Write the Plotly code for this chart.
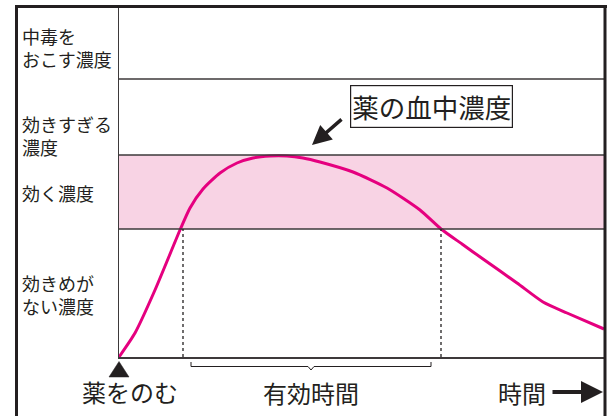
import plotly.graph_objects as go

# ---- data (time in arbitrary units, concentration in arbitrary units) ----
time = [0, 16, 36, 61, 71, 84, 101, 118, 134, 151, 168, 184, 201, 234, 268, 301,
        322, 343, 364, 398, 424, 448, 485]
conc = [0, 24, 67, 127, 149, 168, 184, 194, 199, 201, 201, 199, 195, 185, 169, 147,
        128, 113, 98, 74, 55, 44, 28]

level_bounds = [0, 128, 202, 278, 350]          # zone boundaries
level_labels = ["効きめが<br>ない濃度", "効く濃度", "効きすぎる<br>濃度", "中毒を<br>おこす濃度"]
label_levels = [63, 164, 222, 310]              # vertical placement of the zone labels
effect_start, effect_end = 64, 322              # times where curve crosses effective level
time_max = 486

W, H = 613, 416
FONT = "Noto Sans CJK JP"
INK = "#231f20"
MAGENTA = "#e5007f"
PINK = "#f8d3e4"
X_DOM = [119 / W, 605 / W]

def px(x):
    return x / W

def py(y):
    return 1 - y / H

def t_to_paper(t):
    return X_DOM[0] + (X_DOM[1] - X_DOM[0]) * t / time_max

fig = go.Figure()

fig.add_trace(go.Scatter(
    x=time, y=conc, mode="lines",
    line=dict(color=MAGENTA, width=3, shape="spline", smoothing=0.6),
    hoverinfo="skip", showlegend=False))

shapes = []
# effective band
shapes.append(dict(type="rect", xref="x", yref="y", x0=0, x1=time_max,
                   y0=level_bounds[1], y1=level_bounds[2],
                   fillcolor=PINK, line=dict(width=0), layer="below"))
# zone boundary lines
for b in level_bounds[1:4]:
    shapes.append(dict(type="line", xref="x", yref="y", x0=0, x1=time_max,
                       y0=b, y1=b, line=dict(color="#3d393a", width=1.5)))
# dotted verticals
for t in (effect_start, effect_end):
    shapes.append(dict(type="line", xref="x", yref="y", x0=t, x1=t,
                       y0=0, y1=level_bounds[1],
                       line=dict(color=INK, width=1.3, dash="dot")))
# outer frame (left, top, right)
shapes.append(dict(type="line", xref="paper", yref="paper", x0=px(16.5), x1=px(16.5),
                   y0=py(5), y1=py(416), line=dict(color=INK, width=3)))
shapes.append(dict(type="line", xref="paper", yref="paper", x0=px(15), x1=px(607),
                   y0=py(6.5), y1=py(6.5), line=dict(color=INK, width=3)))
shapes.append(dict(type="line", xref="paper", yref="paper", x0=px(605), x1=px(605),
                   y0=py(5), y1=py(416), line=dict(color=INK, width=3)))
# start marker (filled triangle under the origin)
tx = t_to_paper(time[0])
shapes.append(dict(type="path", xref="paper", yref="paper",
                   path=(f"M {tx - px(10)},{py(377)} L {tx + px(10)},{py(377)} "
                         f"L {tx},{py(361.5)} Z"),
                   fillcolor=INK, line=dict(color=INK, width=0.5)))
# brace under effective time
bx0, bx1 = t_to_paper(effect_start + 8), t_to_paper(effect_end - 10)
bm = (bx0 + bx1) / 2
d = px(3)
brace = (f"M {bx0},{py(362)} L {bx0},{py(366.5)} L {bm - d},{py(366.5)} L {bm},{py(370)} "
         f"L {bm + d},{py(366.5)} L {bx1},{py(366.5)} L {bx1},{py(362)}")
shapes.append(dict(type="path", xref="paper", yref="paper", path=brace,
                   line=dict(color=INK, width=1)))

annotations = []
# left zone labels
for ly, lab in zip(label_levels, level_labels):
    annotations.append(dict(text=lab, xref="paper", yref="y", x=px(20), y=ly,
                            xanchor="left", yanchor="middle", align="left", showarrow=False,
                            font=dict(family=FONT, size=18, color=INK)))
# bottom labels
annotations.append(dict(text="薬をのむ", xref="paper", yref="paper", x=px(130), y=py(391),
                        xanchor="center", yanchor="middle", showarrow=False,
                        font=dict(family=FONT, size=24, color=INK)))
annotations.append(dict(text="有効時間", xref="paper", yref="paper", x=bm, y=py(392),
                        xanchor="center", yanchor="middle", showarrow=False,
                        font=dict(family=FONT, size=24, color=INK)))
annotations.append(dict(text="時間", xref="paper", yref="paper", x=px(522), y=py(392),
                        xanchor="center", yanchor="middle", showarrow=False,
                        font=dict(family=FONT, size=24, color=INK)))
annotations.append(dict(text="", xref="paper", yref="paper", x=px(603), y=py(392),
                        ax=-52, ay=0, axref="pixel", ayref="pixel", showarrow=True,
                        arrowhead=2, arrowsize=1.1, arrowwidth=4, arrowcolor=INK))
# curve label
annotations.append(dict(text="薬の血中濃度", xref="paper", yref="paper", x=px(431), y=py(106.5),
                        xanchor="center", yanchor="middle", showarrow=False,
                        bordercolor=INK, borderwidth=1.2, borderpad=1, bgcolor="white",
                        font=dict(family=FONT, size=26.5, color=INK)))
annotations.append(dict(text="", xref="paper", yref="paper", x=px(312), y=py(145),
                        ax=31, ay=-27, axref="pixel", ayref="pixel", showarrow=True,
                        arrowhead=2, arrowsize=1.1, arrowwidth=3.5, arrowcolor=INK))

fig.update_layout(
    width=W, height=H, margin=dict(l=0, r=0, t=0, b=0),
    paper_bgcolor="white", plot_bgcolor="white",
    shapes=shapes, annotations=annotations,
    xaxis=dict(domain=X_DOM, range=[0, time_max], showgrid=False,
               zeroline=False, showticklabels=False, ticks="",
               showline=True, linecolor="#3d393a", linewidth=1.5, fixedrange=True),
    yaxis=dict(domain=[py(357), py(7)], range=[0, level_bounds[-1]], showgrid=False,
               zeroline=False, showticklabels=False, ticks="",
               showline=True, linecolor="#3d393a", linewidth=1.5, fixedrange=True),
)

fig.write_html("out.html", config={"displayModeBar": False, "staticPlot": True},
               post_script="document.body.style.margin='0';")
